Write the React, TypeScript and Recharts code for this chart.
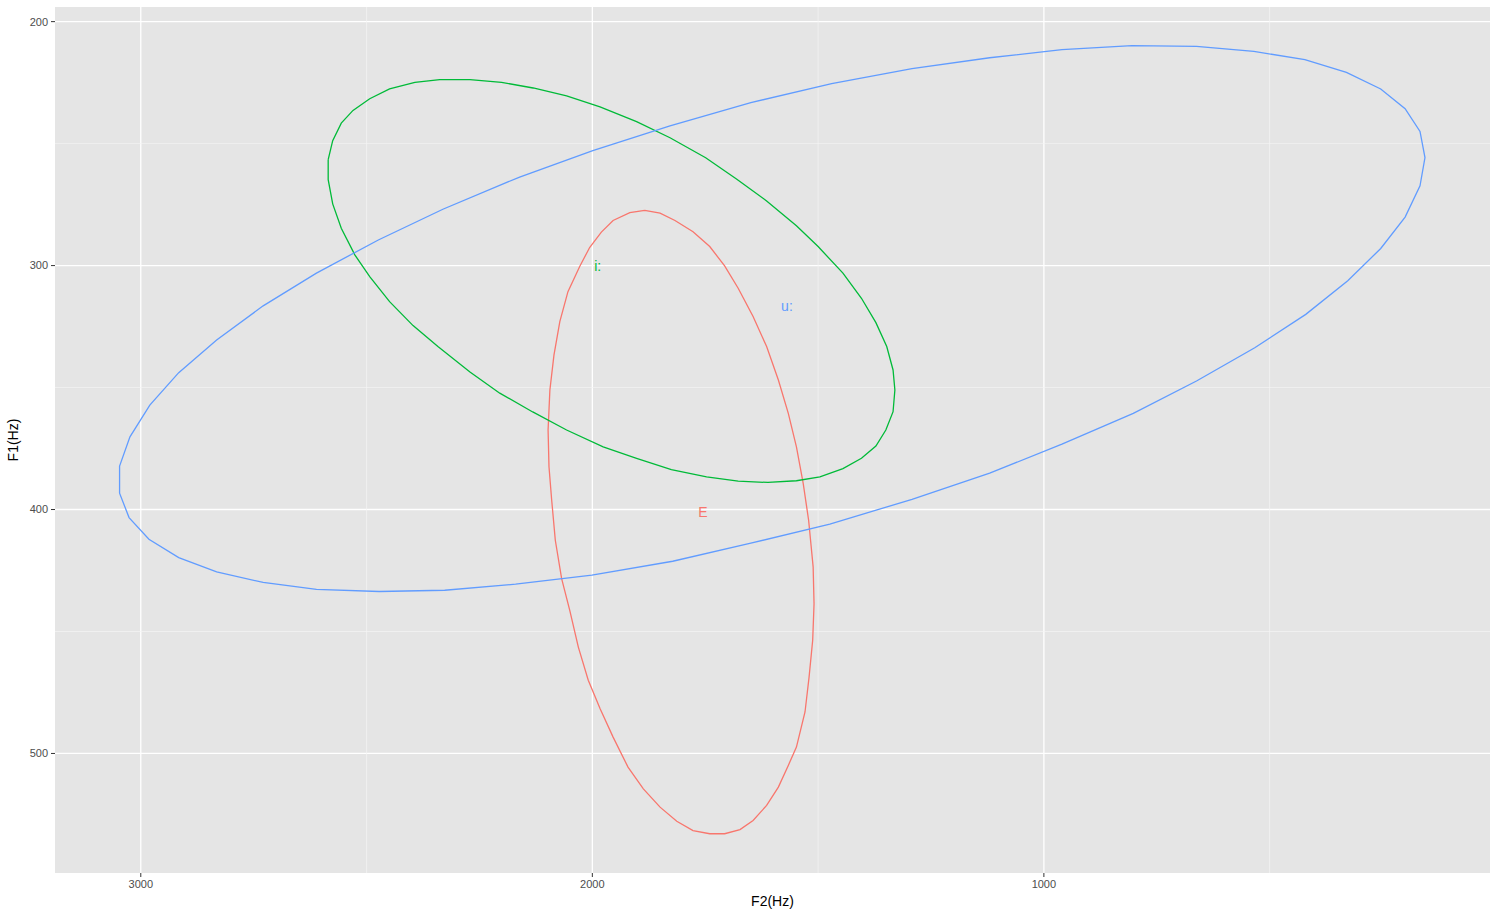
import React from 'react';
import {
  ComposedChart,
  Line,
  Scatter,
  XAxis,
  YAxis,
  CartesianGrid,
  ReferenceLine
} from 'recharts';

// ellipse outlines, [F2, F1] in Hz
const ellipseE: [number, number][] = [
  [1884, 277.4], [1850, 278.5], [1817, 281.5], [1777, 286.1], [1740, 292.2],
  [1707, 300.1], [1677, 309.3], [1644, 320.9], [1614, 333.2], [1588, 346.9],
  [1566, 360.6], [1548, 374.3], [1533, 389.3], [1521, 404.4],
  [1511, 423.5], [1509, 438.6], [1512, 453.6], [1520, 468.7], [1529, 483.0],
  [1548, 497.4], [1566, 504.9], [1588, 513.8], [1614, 521.3], [1644, 527.5],
  [1673, 531.2], [1707, 532.9], [1740, 532.9], [1777, 531.6], [1813, 527.8],
  [1850, 522.0], [1887, 514.5], [1921, 505.6], [1954, 493.3], [1983, 481.6],
  [2009, 470.0], [2031, 456.4], [2050, 441.3], [2068, 428.3], [2082, 412.6],
  [2090, 396.2], [2096, 382.5], [2098, 367.4], [2094, 351.0], [2085, 336.7],
  [2072, 323.0], [2054, 310.7], [2028, 300.4], [2006, 292.6], [1980, 286.3],
  [1954, 281.5], [1917, 278.3], [1884, 277.4]
];

const ellipseI: [number, number][] = [
  [2585, 256.6], [2575, 248.8], [2556, 241.6], [2530, 236.4], [2493, 231.6],
  [2449, 227.6], [2393, 224.9], [2338, 223.8], [2271, 223.8], [2201, 224.9],
  [2131, 227.2], [2057, 230.4], [1983, 234.9], [1902, 241.0], [1828, 247.6],
  [1749, 255.8], [1680, 264.6], [1614, 273.5], [1548, 283.7], [1500, 292.2],
  [1445, 303.1], [1404, 313.4], [1372, 323.4], [1348, 333.2], [1334, 342.8],
  [1330, 351.0], [1334, 359.9], [1350, 367.4], [1372, 374.0], [1404, 379.0],
  [1445, 383.2], [1496, 386.6], [1548, 388.2], [1611, 388.9], [1677, 388.4],
  [1747, 386.6], [1825, 383.6], [1902, 379.0], [1976, 374.3], [2057, 367.4],
  [2132, 360.0], [2205, 352.3], [2271, 343.6], [2342, 333.2], [2397, 324.6],
  [2449, 314.8], [2493, 304.5], [2526, 295.6], [2556, 284.7], [2575, 274.7],
  [2585, 264.8], [2585, 256.6]
];

const ellipseU: [number, number][] = [
  [3047, 382.2], [3024, 370.2], [2980, 357.2], [2916, 343.9], [2832, 330.5],
  [2729, 316.5], [2611, 303.1], [2474, 289.5], [2331, 276.9], [2161, 263.7],
  [1999, 252.9], [1828, 242.7], [1649, 233.2], [1470, 225.4], [1292, 219.3],
  [1120, 214.8], [960, 211.5], [805, 209.8], [662, 210.1], [535, 212.2],
  [422, 215.6], [330, 220.8], [254, 227.6], [200, 235.7], [167, 245.0],
  [156, 255.7], [167, 267.3], [200, 280.1], [254, 293.0], [327, 306.2],
  [420, 320.0], [533, 333.7], [662, 347.3], [802, 360.6], [960, 373.2],
  [1120, 385.1], [1292, 395.8], [1474, 406.0], [1649, 413.8], [1822, 421.2],
  [2001, 426.9], [2170, 430.6], [2327, 433.1], [2472, 433.6], [2611, 432.7],
  [2729, 429.9], [2832, 425.6], [2916, 419.7], [2982, 412.2], [3026, 403.3],
  [3047, 393.3], [3047, 382.2]
];

const vowels = ['E', 'i:', 'u:'];
const vowelF2 = [1755, 1988, 1569];
const vowelF1 = [401, 300, 316.5];
const vowelColors = ['#F8766D', '#00BA38', '#619CFF'];

const xTicks = [1000, 2000, 3000];
const yTicks = [200, 300, 400, 500];
const xMinor = [500, 1500, 2500];
const yMinor = [250, 350, 450];

const toRows = (pts: [number, number][]) => pts.map(([f2, f1]) => ({ f2, f1 }));

const series = [
  { name: 'E', rows: toRows(ellipseE), color: vowelColors[0] },
  { name: 'i:', rows: toRows(ellipseI), color: vowelColors[1] },
  { name: 'u:', rows: toRows(ellipseU), color: vowelColors[2] }
];

const labelRows = vowels.map((v, i) => ({ f2: vowelF2[i], f1: vowelF1[i], label: v, color: vowelColors[i] }));

const font = '"Liberation Sans", Arial, sans-serif';
const tickStyle = { fontSize: 11, fill: '#4d4d4d', fontFamily: font };

const App: React.FC = () => {
  return (
    <div style={{ position: 'absolute', left: 0, top: 0, background: '#fff' }}>
      <ComposedChart
        width={1498}
        height={917}
        margin={{ top: 7, right: 8, bottom: 14, left: 10 }}
      >
        <CartesianGrid
          fill="#e5e5e5"
          fillOpacity={1}
          stroke="#ffffff"
          strokeWidth={1.3}
          horizontalValues={yTicks}
          verticalValues={xTicks}
        />
        {xMinor.map((v) => (
          <ReferenceLine key={'x' + v} x={v} stroke="#f3f3f3" strokeWidth={0.7} />
        ))}
        {yMinor.map((v) => (
          <ReferenceLine key={'y' + v} y={v} stroke="#f3f3f3" strokeWidth={0.7} />
        ))}
        <XAxis
          type="number"
          dataKey="f2"
          domain={[12, 3190]}
          reversed
          allowDataOverflow
          ticks={xTicks}
          height={30}
          axisLine={false}
          tickLine={{ stroke: '#333333' }}
          tickSize={4}
          tickMargin={3}
          tick={tickStyle}
          label={{
            content: (props: any) => {
              const vb = props.viewBox;
              return (
                <text
                  x={vb.x + vb.width / 2}
                  y={vb.y + 28}
                  textAnchor="middle"
                  dominantBaseline="central"
                  fontSize={14}
                  fontFamily={font}
                  fill="#000"
                >
                  F2(Hz)
                </text>
              );
            }
          }}
        />
        <YAxis
          type="number"
          dataKey="f1"
          domain={[194, 549]}
          reversed
          allowDataOverflow
          ticks={yTicks}
          width={45}
          axisLine={false}
          tickLine={{ stroke: '#333333' }}
          tickSize={4}
          tickMargin={3}
          tick={tickStyle}
          label={{
            content: (props: any) => {
              const vb = props.viewBox;
              const cx = 13;
              const cy = vb.y + vb.height / 2;
              return (
                <text
                  x={cx}
                  y={cy}
                  transform={`rotate(-90, ${cx}, ${cy})`}
                  textAnchor="middle"
                  dominantBaseline="central"
                  fontSize={14}
                  fontFamily={font}
                  fill="#000"
                >
                  F1(Hz)
                </text>
              );
            }
          }}
        />
        {series.map((s) => (
          <Line
            key={s.name}
            data={s.rows}
            dataKey="f1"
            type="linear"
            stroke={s.color}
            strokeWidth={1.3}
            dot={false}
            activeDot={false}
            isAnimationActive={false}
          />
        ))}
        <Scatter
          data={labelRows}
          dataKey="f1"
          isAnimationActive={false}
          shape={(props: any) => (
            <text
              x={props.cx}
              y={props.cy}
              textAnchor="middle"
              dominantBaseline="central"
              fontSize={14}
              fontFamily={font}
              fill={props.payload.color}
            >
              {props.payload.label}
            </text>
          )}
        />
      </ComposedChart>
    </div>
  );
};

export default App;
